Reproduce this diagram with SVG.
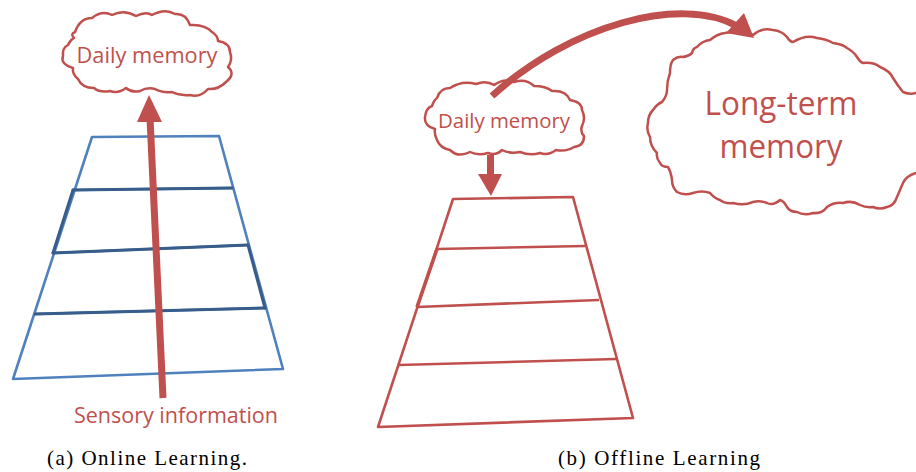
<svg xmlns="http://www.w3.org/2000/svg" width="916" height="472" viewBox="0 0 916 472">
<style>
.cloud{fill:#ffffff;stroke:#C0504D;stroke-width:2.5;stroke-linejoin:round}
.red{fill:none;stroke:#C0504D;stroke-width:2.6;stroke-linejoin:round}
.blue{fill:none;stroke:#4F81BD;stroke-width:2.6;stroke-linejoin:round}
.dark{fill:none;stroke:#385D8A;stroke-width:3;stroke-linecap:round}
.lbl{font-family:"Open Sans","Noto Sans",sans-serif;fill:#C0504D;text-anchor:middle}
.cap{font-family:"Liberation Serif","DejaVu Serif",serif;fill:#000;font-size:21px}
.shaft{fill:none;stroke:#C0504D;stroke-width:7}
.head{fill:#C0504D}
</style>
<rect width="916" height="472" fill="#ffffff"/>

<g id="online-network">
  <polygon class="blue" points="92,137 219,136 283,369 13,379"/>
  <line class="blue" x1="73" y1="190" x2="232" y2="188"/>
  <line class="blue" x1="53" y1="253" x2="248" y2="245"/>
  <line class="blue" x1="35" y1="314" x2="265" y2="308"/>
  <line class="dark" x1="73" y1="190" x2="232" y2="188"/>
  <line class="dark" x1="53" y1="253" x2="248" y2="245"/>
  <line class="dark" x1="35" y1="314" x2="265" y2="308"/>
  <line class="dark" x1="73" y1="190" x2="53" y2="253"/>
  <line class="dark" x1="248" y1="245" x2="265" y2="308"/>
</g>

<g id="online-daily-memory">
  <path class="cloud" d="M75 32 Q80 18 92 18 Q102 10 112 15 Q124 9 136 16 Q146 11 152 15 Q165 8 175 14 Q186 13 190 25 Q205 24 212 32 Q218 36 218 41 Q230 43 230 52 Q233 60 228 67 Q236 74 226 82 Q218 90 208 89 Q200 98 190 95 Q180 96 172 92 Q162 93 155 89 Q147 87 140 91 Q132 93 126 88 Q118 94 110 91 Q100 93 94 88 Q82 88 78 79 Q72 74 73 68 Q60 64 63 56 Q62 48 68 45 Q70 40 74 38 Q70 34 75 32 Z"/>
  <text class="lbl" x="147" y="63" font-size="21" textLength="141" lengthAdjust="spacingAndGlyphs">Daily memory</text>
</g>

<g id="sensory-information">
  <text class="lbl" x="176" y="423" font-size="22" textLength="204" lengthAdjust="spacingAndGlyphs">Sensory information</text>
</g>

<g id="offline-daily-memory">
  <path class="cloud" d="M437 98 Q440 88 450 88 Q462 80 476 84 Q486 80 494 85 Q504 78 514 82 Q526 78 534 86 Q546 86 552 91 Q566 90 570 100 Q582 102 582 110 Q586 118 582 126 Q580 132 584 136 Q584 146 574 147 Q566 152 556 150 Q548 156 540 153 Q530 156 520 152 Q510 154 502 150 Q496 156 488 153 Q478 156 470 152 Q458 158 450 150 Q440 148 437 140 Q434 134 435 129 Q424 126 425 117 Q426 108 432 106 Q434 100 437 98 Z"/>
  <text class="lbl" x="504" y="128" font-size="20" textLength="132" lengthAdjust="spacingAndGlyphs">Daily memory</text>
</g>

<g id="long-term-memory">
  <path class="cloud" d="M725 33 Q740 30 753 35 Q762 27 773 30 Q782 31 787 37 Q790 42 793 42 Q806 34 817 38 Q826 39 833 43 Q842 44 847 48 Q854 52 857 57 Q860 62 863 63 Q874 62 880 67 Q890 71 893 78 Q898 86 903 92 Q910 95 916 93 L935 93 L935 172 L916 173 Q906 176 903 183 Q900 190 897 197 Q894 206 887 207 Q880 210 873 207 Q866 208 860 205 Q852 200 843 203 Q834 202 827 207 Q822 214 813 213 Q804 216 797 212 Q790 212 787 207 Q784 201 780 200 Q773 206 767 203 Q760 200 753 202 Q744 206 733 203 Q725 204 720 200 Q714 198 710 193 Q702 190 693 193 Q684 196 677 192 Q672 187 672 180 Q671 172 668 167 Q662 167 660 163 Q656 158 657 153 Q650 146 650 137 Q646 130 648 123 Q648 115 653 110 Q657 104 662 102 Q667 96 667 90 Q667 81 670 73 Q670 64 673 60 Q678 56 683 57 Q689 56 692 53 Q693 48 697 47 Q702 41 710 40 Q717 34 725 33 Z"/>
  <text class="lbl" x="781" y="115" font-size="32" textLength="153" lengthAdjust="spacingAndGlyphs">Long-term</text>
  <text class="lbl" x="781" y="158" font-size="32" textLength="123" lengthAdjust="spacingAndGlyphs">memory</text>
</g>

<g id="offline-network">
  <polygon class="red" points="453,199 573,197 633,418 378,427"/>
  <line class="red" x1="437" y1="249" x2="585" y2="246"/>
  <line class="red" x1="417" y1="307" x2="599" y2="300"/>
  <line class="red" x1="399" y1="365" x2="616" y2="359"/>
  <line class="red" style="stroke-width:3.6" x1="437" y1="249" x2="417" y2="307"/>
</g>

<g id="connectors">
  <line class="shaft" x1="163" y1="398" x2="150" y2="118"/>
  <polygon class="head" points="149,95 137,122 162,122"/>
  <line class="shaft" x1="490.5" y1="155" x2="490.5" y2="176"/>
  <polygon class="head" points="478,174 502,174 491,196"/>
  <path class="shaft" d="M492 96 C570 25 680 -5 737 26"/>
  <polygon class="head" points="754,38 744,13 726,33"/>
</g>

<g id="captions">
  <text class="cap" x="47" y="465" textLength="200" lengthAdjust="spacing">(a) Online Learning.</text>
  <text class="cap" x="558" y="465" textLength="202" lengthAdjust="spacing">(b) Offline Learning</text>
</g>
</svg>
